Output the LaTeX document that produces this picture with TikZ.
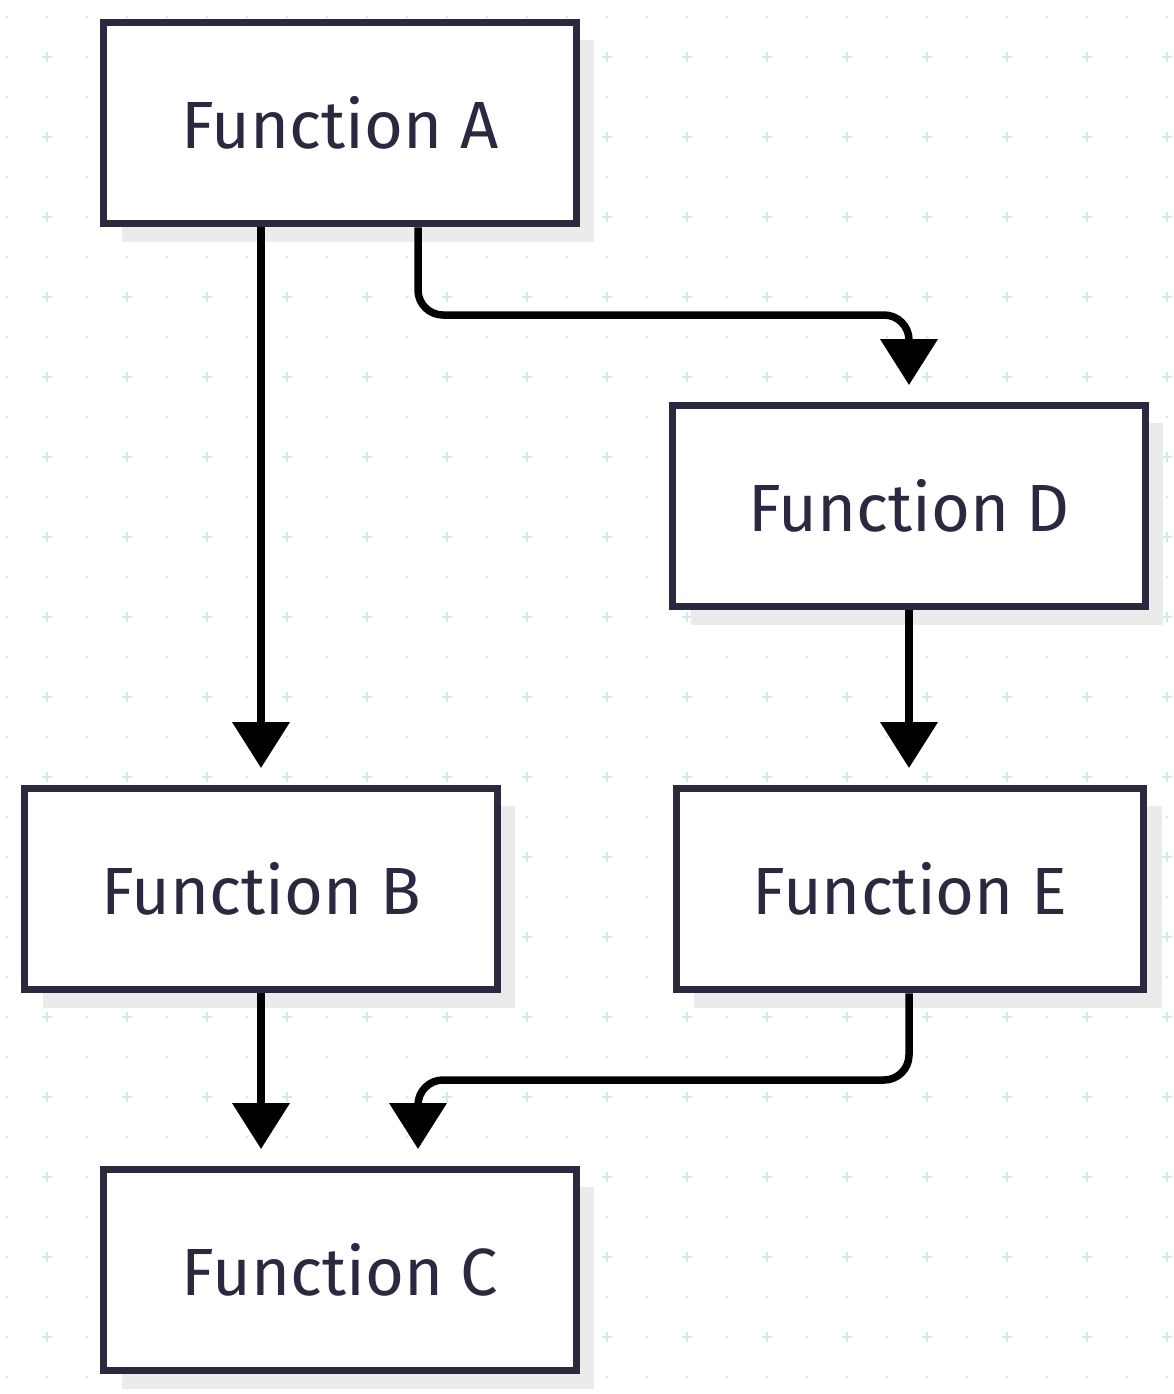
\documentclass[tikz,border=0pt]{standalone}
\usepackage{fontspec}
\setmainfont{Fira Sans}
\usetikzlibrary{arrows.meta,positioning,shadows}
\definecolor{ink}{HTML}{2A2940}
\definecolor{gridc}{HTML}{CFEAEA}
\definecolor{shade}{HTML}{EBEBEB}
\begin{document}
\begin{tikzpicture}[x=0.02cm,y=-0.02cm,
  func/.style={draw=ink, line width=0.14cm, fill=white, minimum width=9.45cm, minimum height=4.04cm,
    inner sep=0pt, font=\fontsize{38}{40}\selectfont, text=ink,
    drop shadow={shadow xshift=0.36cm, shadow yshift=-0.36cm, fill=shade, opacity=1}},
  flow/.style={line width=0.15cm, rounded corners=0.5cm, -{Triangle[length=0.92cm,width=1.12cm]}}]
\fill[white] (0,0) rectangle (1174,1394);
\useasboundingbox (0,0) rectangle (1174,1394);
% background grid
\foreach \i in {0,...,29} \foreach \j in {0,...,34}
  \fill[gridc] (7+40*\i,17+40*\j) circle (0.03cm);
\foreach \i in {0,...,14} \foreach \j in {0,...,16}
  \draw[gridc, line width=0.05cm] (47+80*\i-5,57+80*\j) -- ++(10,0) (47+80*\i,57+80*\j-5) -- ++(0,10);
% boxes
\node[func] (a) at (340,123) {Function A};
\node[func] (d) at (909,506) {Function D};
\node[func] (b) at (261,889) {Function B};
\node[func, minimum width=9.36cm] (e) at (910,889) {Function E};
\node[func] (c) at (340,1270) {Function C};
% arrows
\draw[flow] (a.south -| b) -- ([yshift=0.33cm]b.north);
\draw[flow] (a.south -| 418,0) |- (660,315) -| ([yshift=0.33cm]d.north);
\draw[flow] (d) -- ([yshift=0.33cm]d |- e.north);
\draw[flow] (b) -- ([yshift=0.33cm]b |- c.north);
\draw[flow] (e.south -| 909,0) |- (660,1080) -| ([yshift=0.33cm]c.north -| 418,0);
\end{tikzpicture}
\end{document}
